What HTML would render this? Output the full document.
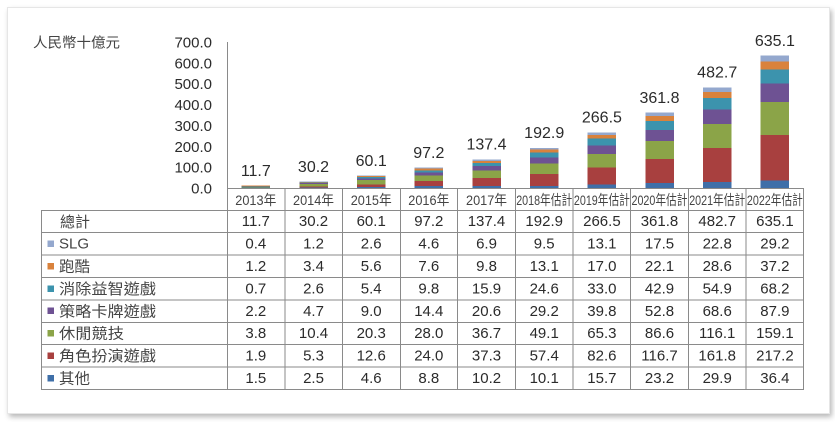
<!DOCTYPE html>
<html><head><meta charset="utf-8">
<style>
html,body{margin:0;padding:0;background:#fff;width:835px;height:422px;overflow:hidden;}
.card{position:absolute;left:7px;top:7px;width:821px;height:405px;background:#fff;border:1px solid #e6e6e6;box-shadow:2px 3px 5px rgba(0,0,0,0.28);}
svg{position:absolute;left:0;top:0;}
text{font-family:"Liberation Sans","Noto Sans CJK TC",sans-serif;fill:#2b2b2b;}
.cjk text, text.cjk{fill:#444;}
</style></head><body>
<div class="card"></div>
<svg width="835" height="422" viewBox="0 0 835 422" xmlns="http://www.w3.org/2000/svg">
<!-- unit label -->
<text class="cjk" x="33" y="47.5" font-size="14" textLength="87" lengthAdjust="spacingAndGlyphs">人民幣十億元</text>
<!-- y ticks -->
<g font-size="15" text-anchor="end">
<text x="212" y="47.5">700.0</text>
<text x="212" y="68.4">600.0</text>
<text x="212" y="89.2">500.0</text>
<text x="212" y="110.1">400.0</text>
<text x="212" y="130.9">300.0</text>
<text x="212" y="151.8">200.0</text>
<text x="212" y="172.6">100.0</text>
<text x="212" y="193.5">0.0</text>
</g>
<!-- bars -->
<g shape-rendering="crispEdges">
<g transform="translate(241.6,0)">
<rect width="28.5" x="0" y="187.69" height="0.31" fill="#3f6fa8"/>
<rect width="28.5" x="0" y="187.29" height="0.40" fill="#a8403f"/>
<rect width="28.5" x="0" y="186.50" height="0.79" fill="#8ba448"/>
<rect width="28.5" x="0" y="186.04" height="0.46" fill="#6e5293"/>
<rect width="28.5" x="0" y="185.89" height="0.15" fill="#3c93ad"/>
<rect width="28.5" x="0" y="185.64" height="0.25" fill="#d9823c"/>
<rect width="28.5" x="0" y="185.56" height="0.08" fill="#94a8ce"/>
</g>
<g transform="translate(299.27,0)">
<rect width="28.5" y="187.48" height="0.52" fill="#3f6fa8"/>
<rect width="28.5" y="186.37" height="1.11" fill="#a8403f"/>
<rect width="28.5" y="184.20" height="2.17" fill="#8ba448"/>
<rect width="28.5" y="183.22" height="0.98" fill="#6e5293"/>
<rect width="28.5" y="182.68" height="0.54" fill="#3c93ad"/>
<rect width="28.5" y="181.97" height="0.71" fill="#d9823c"/>
<rect width="28.5" y="181.72" height="0.25" fill="#94a8ce"/>
</g>
<g transform="translate(356.94,0)">
<rect width="28.5" y="187.04" height="0.96" fill="#3f6fa8"/>
<rect width="28.5" y="184.41" height="2.63" fill="#a8403f"/>
<rect width="28.5" y="180.18" height="4.23" fill="#8ba448"/>
<rect width="28.5" y="178.30" height="1.88" fill="#6e5293"/>
<rect width="28.5" y="177.18" height="1.13" fill="#3c93ad"/>
<rect width="28.5" y="176.01" height="1.17" fill="#d9823c"/>
<rect width="28.5" y="175.47" height="0.54" fill="#94a8ce"/>
</g>
<g transform="translate(414.61,0)">
<rect width="28.5" y="186.16" height="1.84" fill="#3f6fa8"/>
<rect width="28.5" y="181.16" height="5.01" fill="#a8403f"/>
<rect width="28.5" y="175.32" height="5.84" fill="#8ba448"/>
<rect width="28.5" y="172.32" height="3.00" fill="#6e5293"/>
<rect width="28.5" y="170.27" height="2.04" fill="#3c93ad"/>
<rect width="28.5" y="168.69" height="1.59" fill="#d9823c"/>
<rect width="28.5" y="167.73" height="0.96" fill="#94a8ce"/>
</g>
<g transform="translate(472.28,0)">
<rect width="28.5" y="185.87" height="2.13" fill="#3f6fa8"/>
<rect width="28.5" y="178.09" height="7.78" fill="#a8403f"/>
<rect width="28.5" y="170.44" height="7.66" fill="#8ba448"/>
<rect width="28.5" y="166.14" height="4.30" fill="#6e5293"/>
<rect width="28.5" y="162.83" height="3.32" fill="#3c93ad"/>
<rect width="28.5" y="160.78" height="2.04" fill="#d9823c"/>
<rect width="28.5" y="159.34" height="1.44" fill="#94a8ce"/>
</g>
<g transform="translate(529.95,0)">
<rect width="28.5" y="185.89" height="2.11" fill="#3f6fa8"/>
<rect width="28.5" y="173.92" height="11.97" fill="#a8403f"/>
<rect width="28.5" y="163.68" height="10.24" fill="#8ba448"/>
<rect width="28.5" y="157.59" height="6.09" fill="#6e5293"/>
<rect width="28.5" y="152.46" height="5.13" fill="#3c93ad"/>
<rect width="28.5" y="149.73" height="2.73" fill="#d9823c"/>
<rect width="28.5" y="147.75" height="1.98" fill="#94a8ce"/>
</g>
<g transform="translate(587.62,0)">
<rect width="28.5" y="184.73" height="3.27" fill="#3f6fa8"/>
<rect width="28.5" y="167.50" height="17.23" fill="#a8403f"/>
<rect width="28.5" y="153.88" height="13.62" fill="#8ba448"/>
<rect width="28.5" y="145.58" height="8.30" fill="#6e5293"/>
<rect width="28.5" y="138.69" height="6.89" fill="#3c93ad"/>
<rect width="28.5" y="135.15" height="3.54" fill="#d9823c"/>
<rect width="28.5" y="132.42" height="2.73" fill="#94a8ce"/>
</g>
<g transform="translate(645.29,0)">
<rect width="28.5" y="183.16" height="4.84" fill="#3f6fa8"/>
<rect width="28.5" y="158.82" height="24.34" fill="#a8403f"/>
<rect width="28.5" y="140.76" height="18.06" fill="#8ba448"/>
<rect width="28.5" y="129.75" height="11.01" fill="#6e5293"/>
<rect width="28.5" y="120.80" height="8.95" fill="#3c93ad"/>
<rect width="28.5" y="116.19" height="4.61" fill="#d9823c"/>
<rect width="28.5" y="112.54" height="3.65" fill="#94a8ce"/>
</g>
<g transform="translate(702.96,0)">
<rect width="28.5" y="181.76" height="6.24" fill="#3f6fa8"/>
<rect width="28.5" y="148.02" height="33.74" fill="#a8403f"/>
<rect width="28.5" y="123.80" height="24.22" fill="#8ba448"/>
<rect width="28.5" y="109.49" height="14.31" fill="#6e5293"/>
<rect width="28.5" y="98.04" height="11.45" fill="#3c93ad"/>
<rect width="28.5" y="92.08" height="5.97" fill="#d9823c"/>
<rect width="28.5" y="87.32" height="4.76" fill="#94a8ce"/>
</g>
<g transform="translate(760.63,0)">
<rect width="28.5" y="180.41" height="7.59" fill="#3f6fa8"/>
<rect width="28.5" y="135.11" height="45.30" fill="#a8403f"/>
<rect width="28.5" y="101.92" height="33.18" fill="#8ba448"/>
<rect width="28.5" y="83.59" height="18.33" fill="#6e5293"/>
<rect width="28.5" y="69.36" height="14.22" fill="#3c93ad"/>
<rect width="28.5" y="61.60" height="7.76" fill="#d9823c"/>
<rect width="28.5" y="55.51" height="6.09" fill="#94a8ce"/>
</g>
</g>
<!-- bar labels -->
<g font-size="16" text-anchor="middle">
<text x="255.8" y="175.9">11.7</text>
<text x="313.5" y="172.0">30.2</text>
<text x="371.2" y="165.8">60.1</text>
<text x="428.8" y="158.0">97.2</text>
<text x="486.5" y="149.6">137.4</text>
<text x="544.2" y="138.0">192.9</text>
<text x="601.9" y="122.7">266.5</text>
<text x="659.5" y="102.8">361.8</text>
<text x="717.2" y="77.6">482.7</text>
<text x="774.9" y="45.8">635.1</text>
</g>
<!-- table lines -->
<g stroke="#8a8a8a" stroke-width="1" fill="none" shape-rendering="crispEdges">
<line x1="227.5" y1="42" x2="227.5" y2="389.5"/>
<line x1="227" y1="188.5" x2="804" y2="188.5"/>
<line x1="285" y1="188" x2="285" y2="389.5"/>
<line x1="342.5" y1="188" x2="342.5" y2="389.5"/>
<line x1="400.5" y1="188" x2="400.5" y2="389.5"/>
<line x1="457.5" y1="188" x2="457.5" y2="389.5"/>
<line x1="515.5" y1="188" x2="515.5" y2="389.5"/>
<line x1="573" y1="188" x2="573" y2="389.5"/>
<line x1="630.5" y1="188" x2="630.5" y2="389.5"/>
<line x1="688.5" y1="188" x2="688.5" y2="389.5"/>
<line x1="746" y1="188" x2="746" y2="389.5"/>
<line x1="803.5" y1="188" x2="803.5" y2="389.5"/>
<line x1="41.5" y1="210" x2="41.5" y2="389.5"/>
<line x1="41" y1="210.5" x2="804" y2="210.5"/>
<line x1="41" y1="232.5" x2="804" y2="232.5"/>
<line x1="41" y1="255" x2="804" y2="255"/>
<line x1="41" y1="277.5" x2="804" y2="277.5"/>
<line x1="41" y1="300" x2="804" y2="300"/>
<line x1="41" y1="322.5" x2="804" y2="322.5"/>
<line x1="41" y1="344.5" x2="804" y2="344.5"/>
<line x1="41" y1="367" x2="804" y2="367"/>
<line x1="41" y1="389.5" x2="804" y2="389.5"/>
</g>
<!-- header -->
<g class="cjk" font-size="14" text-anchor="middle">
<text x="255.8" y="205" textLength="41" lengthAdjust="spacingAndGlyphs">2013年</text>
<text x="313.5" y="205" textLength="41" lengthAdjust="spacingAndGlyphs">2014年</text>
<text x="371.2" y="205" textLength="41" lengthAdjust="spacingAndGlyphs">2015年</text>
<text x="428.8" y="205" textLength="41" lengthAdjust="spacingAndGlyphs">2016年</text>
<text x="486.5" y="205" textLength="41" lengthAdjust="spacingAndGlyphs">2017年</text>
<text x="544.2" y="205" textLength="56" lengthAdjust="spacingAndGlyphs">2018年估計</text>
<text x="601.9" y="205" textLength="56" lengthAdjust="spacingAndGlyphs">2019年估計</text>
<text x="659.5" y="205" textLength="56" lengthAdjust="spacingAndGlyphs">2020年估計</text>
<text x="717.2" y="205" textLength="56" lengthAdjust="spacingAndGlyphs">2021年估計</text>
<text x="774.9" y="205" textLength="56" lengthAdjust="spacingAndGlyphs">2022年估計</text>
</g>
<!-- legend markers -->
<g shape-rendering="crispEdges">
<rect x="47.5" y="240.5" width="6.5" height="6.5" fill="#94a8ce"/>
<rect x="47.5" y="262.9" width="6.5" height="6.5" fill="#d9823c"/>
<rect x="47.5" y="285.3" width="6.5" height="6.5" fill="#3c93ad"/>
<rect x="47.5" y="307.7" width="6.5" height="6.5" fill="#6e5293"/>
<rect x="47.5" y="330.1" width="6.5" height="6.5" fill="#8ba448"/>
<rect x="47.5" y="352.5" width="6.5" height="6.5" fill="#a8403f"/>
<rect x="47.5" y="374.9" width="6.5" height="6.5" fill="#3f6fa8"/>
</g>
<!-- row labels -->
<g class="cjk" font-size="15">
<text x="60" y="227" textLength="30" lengthAdjust="spacingAndGlyphs">總計</text>
<text x="59" y="248.6">SLG</text>
<text x="59" y="271.5" textLength="31" lengthAdjust="spacingAndGlyphs">跑酷</text>
<text x="59" y="293.9" textLength="97" lengthAdjust="spacingAndGlyphs">消除益智遊戲</text>
<text x="59" y="316.3" textLength="97" lengthAdjust="spacingAndGlyphs">策略卡牌遊戲</text>
<text x="59" y="338.7" textLength="65" lengthAdjust="spacingAndGlyphs">休閒競技</text>
<text x="59" y="361.1" textLength="97" lengthAdjust="spacingAndGlyphs">角色扮演遊戲</text>
<text x="59" y="383.5" textLength="31" lengthAdjust="spacingAndGlyphs">其他</text>
</g>
<!-- table data -->
<g font-size="15" text-anchor="middle">
<text x="255.8" y="226.2">11.7</text><text x="313.5" y="226.2">30.2</text><text x="371.2" y="226.2">60.1</text><text x="428.8" y="226.2">97.2</text><text x="486.5" y="226.2">137.4</text><text x="544.2" y="226.2">192.9</text><text x="601.9" y="226.2">266.5</text><text x="659.5" y="226.2">361.8</text><text x="717.2" y="226.2">482.7</text><text x="774.9" y="226.2">635.1</text>
<text x="255.8" y="248.6">0.4</text><text x="313.5" y="248.6">1.2</text><text x="371.2" y="248.6">2.6</text><text x="428.8" y="248.6">4.6</text><text x="486.5" y="248.6">6.9</text><text x="544.2" y="248.6">9.5</text><text x="601.9" y="248.6">13.1</text><text x="659.5" y="248.6">17.5</text><text x="717.2" y="248.6">22.8</text><text x="774.9" y="248.6">29.2</text>
<text x="255.8" y="271">1.2</text><text x="313.5" y="271">3.4</text><text x="371.2" y="271">5.6</text><text x="428.8" y="271">7.6</text><text x="486.5" y="271">9.8</text><text x="544.2" y="271">13.1</text><text x="601.9" y="271">17.0</text><text x="659.5" y="271">22.1</text><text x="717.2" y="271">28.6</text><text x="774.9" y="271">37.2</text>
<text x="255.8" y="293.4">0.7</text><text x="313.5" y="293.4">2.6</text><text x="371.2" y="293.4">5.4</text><text x="428.8" y="293.4">9.8</text><text x="486.5" y="293.4">15.9</text><text x="544.2" y="293.4">24.6</text><text x="601.9" y="293.4">33.0</text><text x="659.5" y="293.4">42.9</text><text x="717.2" y="293.4">54.9</text><text x="774.9" y="293.4">68.2</text>
<text x="255.8" y="315.8">2.2</text><text x="313.5" y="315.8">4.7</text><text x="371.2" y="315.8">9.0</text><text x="428.8" y="315.8">14.4</text><text x="486.5" y="315.8">20.6</text><text x="544.2" y="315.8">29.2</text><text x="601.9" y="315.8">39.8</text><text x="659.5" y="315.8">52.8</text><text x="717.2" y="315.8">68.6</text><text x="774.9" y="315.8">87.9</text>
<text x="255.8" y="338.2">3.8</text><text x="313.5" y="338.2">10.4</text><text x="371.2" y="338.2">20.3</text><text x="428.8" y="338.2">28.0</text><text x="486.5" y="338.2">36.7</text><text x="544.2" y="338.2">49.1</text><text x="601.9" y="338.2">65.3</text><text x="659.5" y="338.2">86.6</text><text x="717.2" y="338.2">116.1</text><text x="774.9" y="338.2">159.1</text>
<text x="255.8" y="360.6">1.9</text><text x="313.5" y="360.6">5.3</text><text x="371.2" y="360.6">12.6</text><text x="428.8" y="360.6">24.0</text><text x="486.5" y="360.6">37.3</text><text x="544.2" y="360.6">57.4</text><text x="601.9" y="360.6">82.6</text><text x="659.5" y="360.6">116.7</text><text x="717.2" y="360.6">161.8</text><text x="774.9" y="360.6">217.2</text>
<text x="255.8" y="383">1.5</text><text x="313.5" y="383">2.5</text><text x="371.2" y="383">4.6</text><text x="428.8" y="383">8.8</text><text x="486.5" y="383">10.2</text><text x="544.2" y="383">10.1</text><text x="601.9" y="383">15.7</text><text x="659.5" y="383">23.2</text><text x="717.2" y="383">29.9</text><text x="774.9" y="383">36.4</text>
</g>
</svg>
</body></html>
